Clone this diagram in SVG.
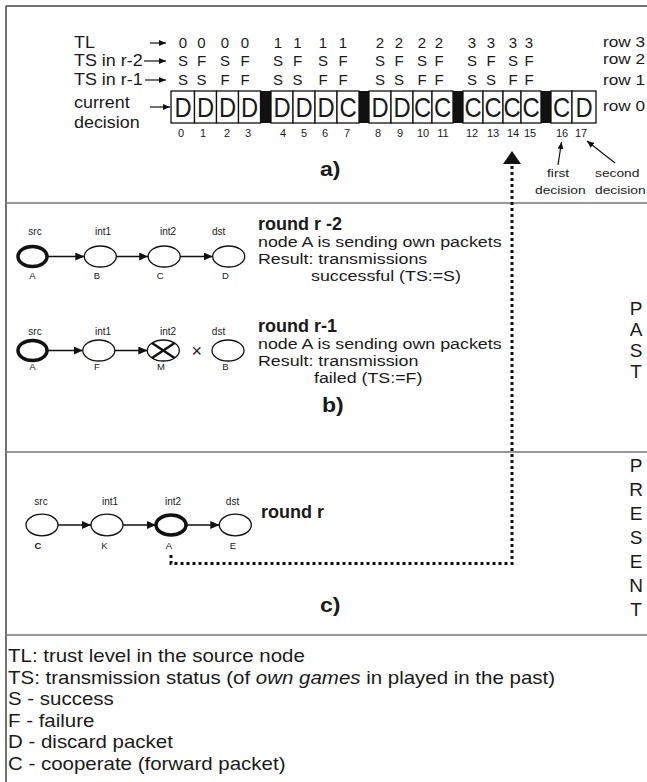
<svg xmlns="http://www.w3.org/2000/svg" width="647" height="782" viewBox="0 0 647 782">
<style>
text{font-family:"Liberation Sans",Arial,Helvetica,sans-serif;fill:#1a1a1a}
.lbl{font-size:16px}
.rw{font-size:15px}
.txt{font-size:15.5px}
.val{font-size:15px;text-anchor:middle}
.idx{font-size:11px;text-anchor:middle}
.cl{font-size:27px;text-anchor:middle}
.bold{font-weight:bold}
.small{font-size:11.5px}
.tiny{font-size:10px;text-anchor:middle}
.nl{font-size:9.5px;text-anchor:middle}
.big{font-size:19px;text-anchor:middle}
.leg{font-size:17.5px}
.frame{stroke:#444;stroke-width:1.5;fill:none}
.sep{stroke:#777;stroke-width:1.5}
.cell{fill:#fff;stroke:#111;stroke-width:1.3}
.blk{fill:#111}
.node{fill:#fff;stroke:#111;stroke-width:1.3}
.own{stroke-width:3.5}
.edge{stroke:#111;stroke-width:1.5;fill:none;marker-end:url(#ah)}
.thin{stroke:#111;stroke-width:1.2;fill:none;marker-end:url(#sh)}
.dots{stroke:#111;stroke-width:3;stroke-dasharray:3 3;fill:none}
</style>
<defs>
<marker id="ah" markerUnits="userSpaceOnUse" markerWidth="9" markerHeight="8" refX="9" refY="4" orient="auto"><path d="M0,0 L9,4 L0,8 z" fill="#111"/></marker>
<marker id="sh" markerUnits="userSpaceOnUse" markerWidth="7" markerHeight="6" refX="7" refY="3" orient="auto"><path d="M0,0 L7,3 L0,6 z" fill="#111"/></marker>
</defs>

<!-- frame and panel separators -->
<g id="frame">
<path class="frame" d="M6,6 H647 M6,6 V782"/>
<path class="sep" d="M6,203 H647 M6,452 H647 M6,635 H647"/>
</g>

<!-- panel a: decision table -->
<g id="table-labels">
<text class="lbl" transform="translate(74,48) scale(1.12,1)">TL</text>
<text class="lbl" transform="translate(74,66) scale(1.12,1)">TS in r-2</text>
<text class="lbl" transform="translate(74,84.5) scale(1.12,1)">TS in r-1</text>
<text class="lbl" transform="translate(74,107.5) scale(1.12,1)">current</text>
<text class="lbl" transform="translate(74,127.5) scale(1.12,1)">decision</text>
</g>

<g id="table-values">
<text class="val" y="48"><tspan x="183">0</tspan><tspan x="201.5">0</tspan><tspan x="225">0</tspan><tspan x="245">0</tspan><tspan x="278">1</tspan><tspan x="297.5">1</tspan><tspan x="323">1</tspan><tspan x="343">1</tspan><tspan x="380">2</tspan><tspan x="399">2</tspan><tspan x="422">2</tspan><tspan x="439">2</tspan><tspan x="472">3</tspan><tspan x="491">3</tspan><tspan x="513">3</tspan><tspan x="529">3</tspan></text>
<text class="val" y="66"><tspan x="183">S</tspan><tspan x="201.5">F</tspan><tspan x="225">S</tspan><tspan x="245">F</tspan><tspan x="278">S</tspan><tspan x="297.5">F</tspan><tspan x="323">S</tspan><tspan x="343">F</tspan><tspan x="380">S</tspan><tspan x="399">F</tspan><tspan x="422">S</tspan><tspan x="439">F</tspan><tspan x="472">S</tspan><tspan x="491">F</tspan><tspan x="513">S</tspan><tspan x="529">F</tspan></text>
<text class="val" y="84.5"><tspan x="183">S</tspan><tspan x="201.5">S</tspan><tspan x="225">F</tspan><tspan x="245">F</tspan><tspan x="278">S</tspan><tspan x="297.5">S</tspan><tspan x="323">F</tspan><tspan x="343">F</tspan><tspan x="380">S</tspan><tspan x="399">S</tspan><tspan x="422">F</tspan><tspan x="439">F</tspan><tspan x="472">S</tspan><tspan x="491">S</tspan><tspan x="513">F</tspan><tspan x="529">F</tspan></text>
</g>

<g id="row-names">
<text class="rw" transform="translate(603,46.5) scale(1.15,1)">row 3</text>
<text class="rw" transform="translate(603,63.5) scale(1.15,1)">row 2</text>
<text class="rw" transform="translate(603,84.5) scale(1.15,1)">row 1</text>
<text class="rw" transform="translate(603,111) scale(1.15,1)">row 0</text>
</g>

<g id="strip">
<rect class="cell" x="171" y="91" width="23.5" height="32"/>
<rect class="cell" x="194.5" y="91" width="22" height="32"/>
<rect class="cell" x="216.5" y="91" width="22" height="32"/>
<rect class="cell" x="238.5" y="91" width="22" height="32"/>
<rect class="blk" x="260.5" y="91" width="10.5" height="32"/>
<rect class="cell" x="271" y="91" width="22" height="32"/>
<rect class="cell" x="293" y="91" width="22" height="32"/>
<rect class="cell" x="315" y="91" width="22" height="32"/>
<rect class="cell" x="337" y="91" width="22" height="32"/>
<rect class="blk" x="359" y="91" width="10" height="32"/>
<rect class="cell" x="369" y="91" width="22" height="32"/>
<rect class="cell" x="391" y="91" width="22" height="32"/>
<rect class="cell" x="413" y="91" width="19" height="32"/>
<rect class="cell" x="432" y="91" width="21" height="32"/>
<rect class="blk" x="453" y="91" width="10" height="32"/>
<rect class="cell" x="463" y="91" width="20" height="32"/>
<rect class="cell" x="483" y="91" width="20" height="32"/>
<rect class="cell" x="503" y="91" width="18" height="32"/>
<rect class="cell" x="521" y="91" width="20" height="32"/>
<rect class="blk" x="541" y="91" width="10" height="32"/>
<rect class="cell" x="551" y="91" width="21" height="32"/>
<rect class="cell" x="572" y="91" width="24" height="32"/>
<text class="cl" transform="translate(183,116.5) scale(0.88,1)">D</text>
<text class="cl" transform="translate(205.5,116.5) scale(0.88,1)">D</text>
<text class="cl" transform="translate(227.5,116.5) scale(0.88,1)">D</text>
<text class="cl" transform="translate(249.5,116.5) scale(0.88,1)">D</text>
<text class="cl" transform="translate(282,116.5) scale(0.88,1)">D</text>
<text class="cl" transform="translate(304,116.5) scale(0.88,1)">D</text>
<text class="cl" transform="translate(326,116.5) scale(0.88,1)">D</text>
<text class="cl" transform="translate(348,116.5) scale(0.88,1)">C</text>
<text class="cl" transform="translate(380,116.5) scale(0.88,1)">D</text>
<text class="cl" transform="translate(402,116.5) scale(0.88,1)">D</text>
<text class="cl" transform="translate(422.5,116.5) scale(0.88,1)">C</text>
<text class="cl" transform="translate(442.5,116.5) scale(0.88,1)">C</text>
<text class="cl" transform="translate(473,116.5) scale(0.88,1)">C</text>
<text class="cl" transform="translate(493,116.5) scale(0.88,1)">C</text>
<text class="cl" transform="translate(512,116.5) scale(0.88,1)">C</text>
<text class="cl" transform="translate(531,116.5) scale(0.88,1)">C</text>
<text class="cl" transform="translate(561.5,116.5) scale(0.88,1)">C</text>
<text class="cl" transform="translate(584,116.5) scale(0.88,1)">D</text>
<text class="idx" y="137"><tspan x="181">0</tspan><tspan x="203">1</tspan><tspan x="227">2</tspan><tspan x="248">3</tspan><tspan x="283">4</tspan><tspan x="304">5</tspan><tspan x="325">6</tspan><tspan x="347">7</tspan><tspan x="378">8</tspan><tspan x="400">9</tspan><tspan x="423">10</tspan><tspan x="443">11</tspan><tspan x="472">12</tspan><tspan x="493">13</tspan><tspan x="513">14</tspan><tspan x="530">15</tspan><tspan x="562">16</tspan><tspan x="581">17</tspan></text>
</g>

<g id="decision-notes">
<text class="small" transform="translate(547,176.5) scale(1.2,1)">first</text>
<text class="small" transform="translate(535,194) scale(1.2,1)">decision</text>
<text class="small" transform="translate(595,176.5) scale(1.2,1)">second</text>
<text class="small" transform="translate(595,194) scale(1.2,1)">decision</text>
</g>

<text id="label-a" class="bold" font-size="21" transform="translate(320,176) scale(1.1,1)">a)</text>

<!-- panel b: past rounds -->
<g id="b1-src"><text class="tiny" x="35" y="235">src</text><ellipse class="node own" cx="32.5" cy="256.5" rx="14.5" ry="10"/><text class="nl" x="32.5" y="278.5">A</text></g>
<g id="b1-int1"><text class="tiny" x="103" y="235">int1</text><ellipse class="node" cx="100.3" cy="256.5" rx="16" ry="10.5"/><text class="nl" x="97" y="278.5">B</text></g>
<g id="b1-int2"><text class="tiny" x="168" y="235">int2</text><ellipse class="node" cx="164.2" cy="256.5" rx="16" ry="10.5"/><text class="nl" x="160.3" y="278.5">C</text></g>
<g id="b1-dst"><text class="tiny" x="218.7" y="235">dst</text><ellipse class="node" cx="228.7" cy="256.5" rx="16" ry="10.5"/><text class="nl" x="225.5" y="278.5">D</text></g>

<g id="b2-src"><text class="tiny" x="35" y="335">src</text><ellipse class="node own" cx="32.5" cy="350.5" rx="14.5" ry="10"/><text class="nl" x="32.5" y="370">A</text></g>
<g id="b2-int1"><text class="tiny" x="103" y="335">int1</text><ellipse class="node" cx="98.8" cy="350.5" rx="16" ry="10.5"/><text class="nl" x="97" y="370">F</text></g>
<g id="b2-int2"><text class="tiny" x="168" y="335">int2</text><ellipse class="node" cx="163.3" cy="350.5" rx="16" ry="10.5" stroke-width="2"/><path d="M152,343 L174.6,358 M152,358 L174.6,343" stroke="#111" stroke-width="2.5"/><text class="nl" x="161" y="370">M</text></g>
<g id="b2-dst"><text class="tiny" x="218.5" y="335">dst</text><ellipse class="node" cx="228" cy="350.5" rx="16" ry="10.5"/><text class="nl" x="225.5" y="370">B</text></g>
<text id="drop" x="196.7" y="357" font-size="18" text-anchor="middle">×</text>

<g id="round-notes">
<text class="bold" font-size="18" x="258" y="230">round r -2</text>
<text class="txt" transform="translate(258,247) scale(1.15,1)">node A is sending own packets</text>
<text class="txt" transform="translate(258,264) scale(1.15,1)">Result: transmissions</text>
<text class="txt" transform="translate(311,281) scale(1.15,1)">successful (TS:=S)</text>
<text class="bold" font-size="18" x="258" y="332">round r-1</text>
<text class="txt" transform="translate(258,349) scale(1.15,1)">node A is sending own packets</text>
<text class="txt" transform="translate(258,366) scale(1.15,1)">Result: transmission</text>
<text class="txt" transform="translate(314,383) scale(1.15,1)">failed (TS:=F)</text>
</g>
<text id="label-b" class="bold" font-size="21" transform="translate(322,412) scale(1.1,1)">b)</text>

<g id="past" class="big"><text x="636" y="315">P</text><text x="636" y="336">A</text><text x="636" y="357">S</text><text x="636" y="378">T</text></g>

<!-- panel c: present round -->
<g id="c-src"><text class="tiny" x="41" y="505">src</text><ellipse class="node" cx="42" cy="525" rx="16" ry="10.8"/><text class="nl bold" x="38" y="549">C</text></g>
<g id="c-int1"><text class="tiny" x="110" y="505">int1</text><ellipse class="node" cx="107" cy="525" rx="16" ry="10.8"/><text class="nl" x="104.5" y="549">K</text></g>
<g id="c-int2"><text class="tiny" x="173" y="505">int2</text><ellipse class="node own" cx="171" cy="525" rx="15" ry="10"/><text class="nl" x="169" y="549">A</text></g>
<g id="c-dst"><text class="tiny" x="232.5" y="505">dst</text><ellipse class="node" cx="235.3" cy="525" rx="16" ry="10.8"/><text class="nl" x="233" y="549">E</text></g>
<text class="bold" font-size="18" x="261" y="518">round r</text>
<text id="label-c" class="bold" font-size="21" transform="translate(320,612) scale(1.1,1)">c)</text>

<g id="present" class="big"><text x="636" y="472">P</text><text x="636" y="496">R</text><text x="636" y="520">E</text><text x="636" y="544">S</text><text x="636" y="568">E</text><text x="636" y="592">N</text><text x="636" y="616">T</text></g>

<!-- connectors -->
<g id="connectors">
<path class="thin" d="M150,43 H166"/>
<path class="thin" d="M144,61 H166"/>
<path class="thin" d="M145,80 H166"/>
<path class="thin" d="M150,107 H170"/>
<path class="thin" d="M558,165 L561.5,142"/>
<path class="thin" d="M615,163 L587,141"/>
<path class="edge" d="M47,256.5 H84.3"/>
<path class="edge" d="M116.3,256.5 H148.2"/>
<path class="edge" d="M180.2,256.5 H212.7"/>
<path class="edge" d="M47,350.5 H82.8"/>
<path class="edge" d="M114.8,350.5 H147.3"/>
<path class="edge" d="M58,525 H91"/>
<path class="edge" d="M123,525 H156"/>
<path class="edge" d="M186,525 H219.3"/>
<path class="dots" d="M171,555 V563.5 H512 V164"/>
<polygon points="512,151 503,164 521,164" fill="#111"/>
</g>

<!-- legend -->
<g id="legend">
<text class="leg" transform="translate(8,662) scale(1.17,1)">TL: trust level in the source node</text>
<text class="leg" transform="translate(8,683.5) scale(1.17,1)">TS: transmission status (of <tspan font-style="italic">own games</tspan> in played in the past)</text>
<text class="leg" transform="translate(8,705) scale(1.17,1)">S - success</text>
<text class="leg" transform="translate(8,726.5) scale(1.17,1)">F - failure</text>
<text class="leg" transform="translate(8,748) scale(1.17,1)">D - discard packet</text>
<text class="leg" transform="translate(8,769.5) scale(1.17,1)">C - cooperate (forward packet)</text>
</g>
</svg>
